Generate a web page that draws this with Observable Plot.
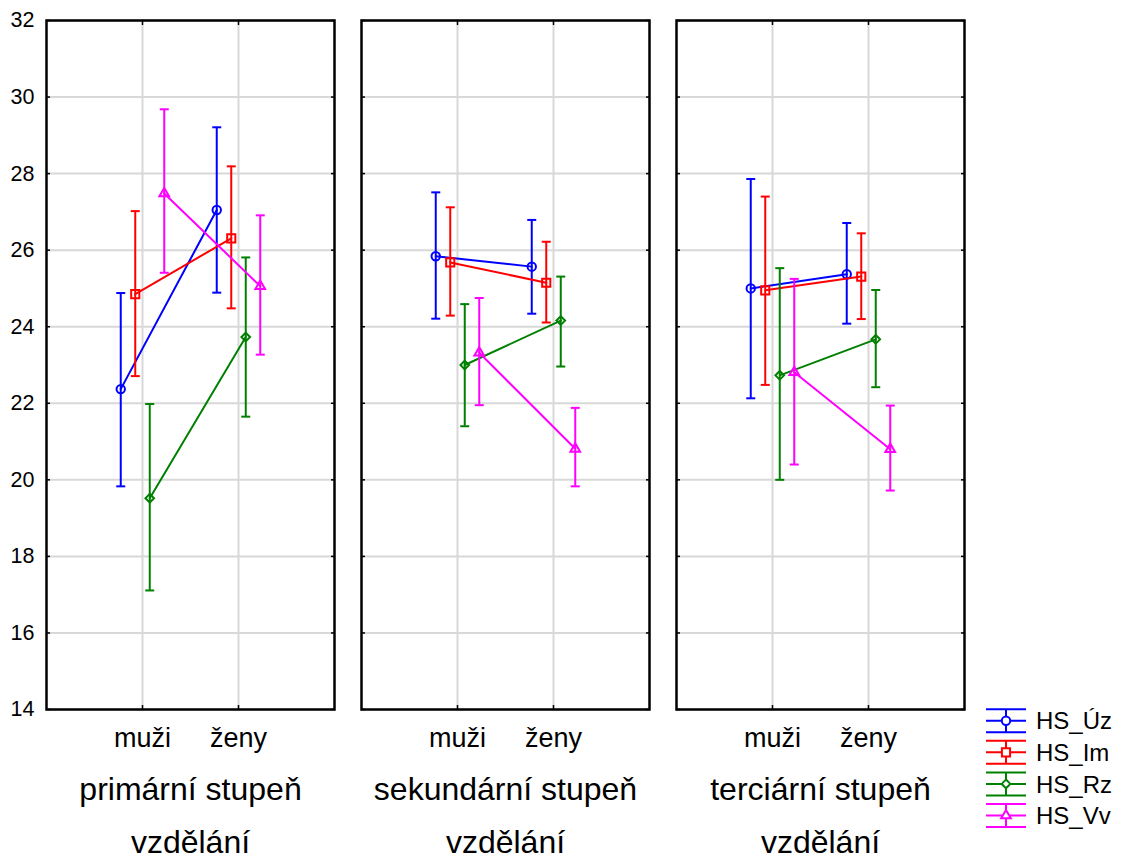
<!DOCTYPE html>
<html><head><meta charset="utf-8">
<script src="https://cdn.jsdelivr.net/npm/d3@7"></script>
<script src="https://cdn.jsdelivr.net/npm/@observablehq/plot@0.6"></script>
<style>
html,body{margin:0;padding:0;background:#fff;}
#wrap{width:1124px;height:859px;overflow:hidden;}
</style>
</head><body><div id="wrap"></div>
<script>
// ---- data ----
const levels = ["primární stupeň vzdělání", "sekundární stupeň vzdělání", "terciární stupeň vzdělání"];
const sexes = ["muži", "ženy"];
const seriesNames = ["HS_Úz", "HS_Im", "HS_Rz", "HS_Vv"];
const seriesColors = ["#0000ff", "#ff0000", "#008000", "#ff00ff"];
const seriesSymbols = ["circle", "square", "diamond2", "triangle"];
const yTicks = [14, 16, 18, 20, 22, 24, 26, 28, 30, 32];

// values per level: [muži, ženy]
const meanUz = [[22.37, 27.05], [25.84, 25.57], [25.00, 25.37]];
const lowUz  = [[19.83, 24.89], [24.21, 24.34], [22.13, 24.08]];
const highUz = [[24.88, 29.21], [27.51, 26.79], [27.86, 26.71]];

const meanIm = [[24.85, 26.31], [25.68, 25.15], [24.95, 25.31]];
const lowIm  = [[22.71, 24.48], [24.29, 24.11], [22.48, 24.20]];
const highIm = [[27.02, 28.19], [27.12, 26.22], [27.40, 26.44]];

const meanRz = [[19.52, 23.73], [23.00, 24.16], [22.73, 23.67]];
const lowRz  = [[17.11, 21.65], [21.40, 22.96], [20.00, 22.42]];
const highRz = [[21.98, 25.81], [24.59, 25.31], [25.53, 24.96]];

const meanVv = [[27.48, 25.06], [23.32, 20.81], [22.81, 20.80]];
const lowVv  = [[25.41, 23.27], [21.95, 19.83], [20.40, 19.72]];
const highVv = [[29.68, 26.91], [24.75, 21.88], [25.25, 21.94]];

const seriesValues = [
  [meanUz, lowUz, highUz],
  [meanIm, lowIm, highIm],
  [meanRz, lowRz, highRz],
  [meanVv, lowVv, highVv]
];

// build tidy rows per series
const rowsBySeries = seriesValues.map(([m, lo, hi], s) =>
  levels.flatMap((lev, li) => sexes.map((sex, xi) => ({
    series: seriesNames[s], level: lev, sex, mean: m[li][xi], lo: lo[li][xi], hi: hi[li][xi]
  })))
);

const offset = 14.5;   // px between series
const sw = 2;
const rSizes = [4.2, 4.6, 3.9, 3.6];

// horizontal cap glyph for error bars
const capSymbol = {
  draw(ctx, size) {
    const w = Math.sqrt(size) / 2;
    ctx.moveTo(-w, 0);
    ctx.lineTo(w, 0);
  }
};
const capR = 9 / Math.sqrt(Math.PI);

const dataMarks = rowsBySeries.flatMap((rows, s) => {
  const dx = (s - 1.5) * offset;
  const stroke = seriesColors[s];
  return [
    Plot.ruleX(rows, {x: "sex", y1: "lo", y2: "hi", fx: "level", stroke, strokeWidth: sw, dx}),
    Plot.dot(rows, {x: "sex", y: "lo", fx: "level", symbol: capSymbol, r: capR, stroke, strokeWidth: sw, fill: "none", dx}),
    Plot.dot(rows, {x: "sex", y: "hi", fx: "level", symbol: capSymbol, r: capR, stroke, strokeWidth: sw, fill: "none", dx}),
    Plot.line(rows, {x: "sex", y: "mean", fx: "level", stroke, strokeWidth: sw, dx}),
    Plot.dot(rows, {x: "sex", y: "mean", fx: "level", symbol: seriesSymbols[s], r: rSizes[s], stroke, strokeWidth: sw, fill: "none", dx})
  ];
});

const chart = Plot.plot({
  width: 1124,
  height: 859,
  marginLeft: 45,
  marginRight: 160,
  marginTop: 20,
  marginBottom: 150,
  facet: {marginTop: 0, marginRight: 0, marginBottom: 0, marginLeft: 0},
  style: {fontFamily: "Arial, 'Liberation Sans', sans-serif", color: "black", background: "white"},
  fx: {domain: levels, paddingInner: 0.0872, paddingOuter: 0},
  x: {type: "point", domain: sexes, padding: 1},
  y: {domain: [14, 32]},
  marks: [
    Plot.gridY(yTicks, {stroke: "#d8d8d8", strokeOpacity: 1, strokeWidth: 2}),
    Plot.gridX(sexes, {stroke: "#d8d8d8", strokeOpacity: 1, strokeWidth: 2}),
    ...dataMarks,
    Plot.axisY(yTicks, {anchor: "left", tickSize: 0, tickPadding: 12, fontSize: 21.5, label: null}),
    Plot.axisY(yTicks, {anchor: "left", tickSize: -4, text: null, label: null, strokeWidth: 1.5, facetAnchor: null}),
    Plot.axisY(yTicks, {anchor: "right", tickSize: -4, text: null, label: null, strokeWidth: 1.5, facetAnchor: null}),
    Plot.axisX(sexes, {anchor: "bottom", tickSize: 0, tickPadding: 18, fontSize: 27, label: null}),
    Plot.axisX(sexes, {anchor: "bottom", tickSize: -4, text: null, label: null, strokeWidth: 1.5}),
    Plot.axisX(sexes, {anchor: "top", tickSize: -4, text: null, label: null, strokeWidth: 1.5, facetAnchor: null}),
    Plot.axisFx({anchor: "bottom", tickSize: 0, tickPadding: 52, fontSize: 32, lineHeight: 1.68, label: null,
      tickFormat: d => d.replace(" vzdělání", "\nvzdělání")}),
    Plot.frame({stroke: "black", strokeWidth: 2.5})
  ]
});

document.getElementById("wrap").appendChild(chart);

// ---- legend ----
const svg = d3.select(chart.tagName.toLowerCase() === "svg" ? chart : chart.querySelector("svg"));
const lg = svg.append("g").attr("class", "legend");
const symTypes = {circle: d3.symbolCircle, square: d3.symbolSquare, diamond2: d3.symbolDiamond2, triangle: d3.symbolTriangle};
seriesNames.forEach((name, i) => {
  const cy = 720.7 + i * 31.6;
  const x0 = 986, x1 = 1026, xc = 1006, h = 11.5;
  const g = lg.append("g").attr("stroke", seriesColors[i]).attr("stroke-width", sw).attr("fill", "none");
  [cy - h, cy, cy + h].forEach(yy => g.append("line").attr("x1", x0).attr("x2", x1).attr("y1", yy).attr("y2", yy));
  g.append("line").attr("x1", xc).attr("x2", xc).attr("y1", cy - h).attr("y2", cy + h);
  g.append("path").attr("transform", `translate(${xc},${cy})`)
    .attr("fill", "white")
    .attr("d", d3.symbol(symTypes[seriesSymbols[i]], Math.PI * rSizes[i] * rSizes[i])());
  lg.append("text").attr("x", 1036).attr("y", cy).attr("dy", "0.36em")
    .attr("text-anchor", "start")
    .attr("font-size", 24).attr("fill", "black").text(name);
});
</script>
</body></html>
